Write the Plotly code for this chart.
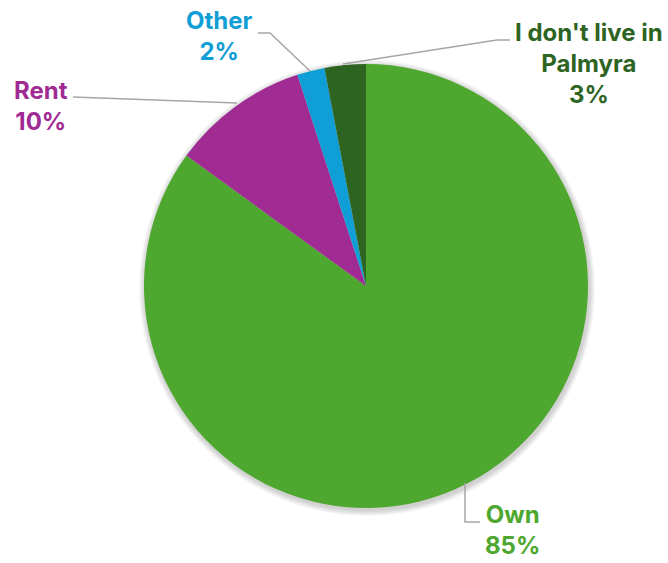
import plotly.graph_objects as go

# Housing status survey results (percent of respondents)
labels = ["Own", "Rent", "Other", "I don't live in Palmyra"]
values = [85, 10, 2, 3]
colors = ["#4EA72E", "#A02B93", "#0F9ED5", "#2E6422"]
label_text = ["Own<br>85%", "Rent<br>10%", "Other<br>2%", "I don't live in<br>Palmyra<br>3%"]

W, H = 668, 563
CX, CY, R = 366, 286, 222  # pie centre and radius in pixels


def px(x, y):
    """Pixel position -> paper coordinates."""
    return x / W, 1 - y / H


fig = go.Figure()
x0, y1 = px(CX - R, CY - R)
x1, y0 = px(CX + R, CY + R)
fig.add_trace(go.Pie(
    labels=labels,
    values=values,
    sort=False,
    direction="clockwise",
    rotation=0,
    marker=dict(colors=colors, line=dict(width=0)),
    textinfo="none",
    hoverinfo="label+percent",
    showlegend=False,
    domain=dict(x=[x0, x1], y=[y0, y1]),
))

# soft drop shadow under the pie
shapes = []
for k in range(1, 7):
    sx0, sy1 = px(CX - R - k + 1, CY - R - k + 2)
    sx1, sy0 = px(CX + R + k + 1, CY + R + k + 2)
    shapes.append(dict(type="circle", xref="paper", yref="paper",
                       x0=sx0, x1=sx1, y0=sy0, y1=sy1,
                       fillcolor="rgba(0,0,0,0.03)", line=dict(width=0),
                       layer="below"))

# leader lines from slices to their labels
leaders = {
    "Own": [(465, 483), (465, 522), (480, 522)],
    "Rent": [(237, 103), (73, 97)],
    "Other": [(310, 71), (270, 33), (258, 33)],
    "I don't live in Palmyra": [(343, 64), (497, 40), (510, 40)],
}
for pts in leaders.values():
    path = ""
    for i, (x, y) in enumerate(pts):
        u, v = px(x, y)
        path += ("M" if i == 0 else "L") + f"{u},{v} "
    shapes.append(dict(type="path", xref="paper", yref="paper", path=path.strip(),
                       line=dict(color="#A6A6A6", width=1.5)))

label_pos = {
    "Own": (512, 530),
    "Rent": (41, 106),
    "Other": (219, 36),
    "I don't live in Palmyra": (589, 64),
}
annotations = []
for lab, txt, col in zip(labels, label_text, colors):
    u, v = px(*label_pos[lab])
    annotations.append(dict(x=u, y=v, xref="paper", yref="paper", text=f"<b>{txt}</b>",
                            showarrow=False, xanchor="center", yanchor="middle",
                            font=dict(family="Inter", size=24, color=col)))

fig.update_layout(
    width=W, height=H,
    margin=dict(l=0, r=0, t=0, b=0),
    paper_bgcolor="white",
    plot_bgcolor="white",
    shapes=shapes,
    annotations=annotations,
)
fig.write_html("out.html")
